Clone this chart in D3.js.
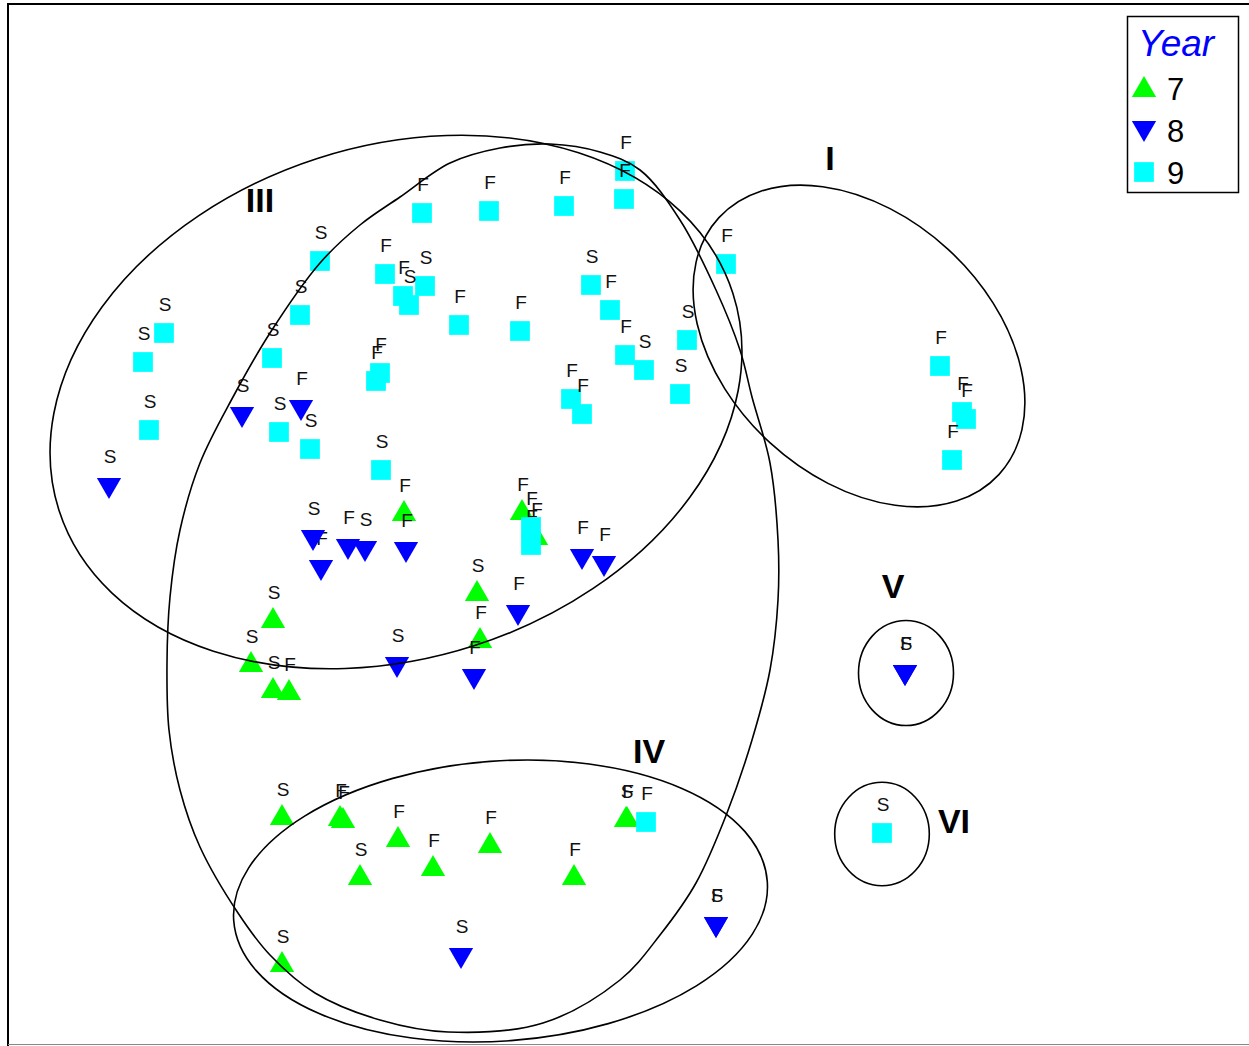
<!DOCTYPE html>
<html><head><meta charset="utf-8">
<script src="https://cdn.jsdelivr.net/npm/d3@7"></script>
<style>
body{margin:0;background:#fff}
svg{display:block}
text{font-family:"Liberation Sans",Arial,Helvetica,sans-serif}
</style>
</head><body>
<svg id="chart" width="1249" height="1046"></svg>
<script>
// ---- data (ordination scores, arbitrary units) ----
const years = ["7", "8", "9"];
const yearColors = ["#00FF00", "#0000FF", "#00FFFF"];

// [axis1, axis2, season label]
const year7 = [
  [-3.27,-1.21,"S"],[-3.49,-1.65,"S"],[-3.27,-1.91,"S"],[-3.11,-1.93,"F"],
  [-1.96,-0.14,"F"],[-0.78,-0.13,"F"],[-0.64,-0.38,"F"],[-1.23,-0.94,"S"],
  [-1.20,-1.41,"F"],[-3.18,-3.18,"S"],[-2.60,-3.19,"F"],[-2.57,-3.21,"F"],
  [-2.02,-3.40,"F"],[-2.40,-3.78,"S"],[-1.67,-3.69,"F"],[-1.10,-3.46,"F"],
  [-0.26,-3.78,"F"],[0.26,-3.20,"S"],[0.27,-3.20,"F"],[-3.18,-4.65,"S"]
];
const year8 = [
  [-3.58,0.86,"S"],[-2.99,0.93,"F"],[-4.91,0.15,"S"],[-2.79,-0.67,"F"],
  [-2.87,-0.37,"S"],[-2.52,-0.46,"F"],[-2.35,-0.48,"S"],[-2.03,-1.64,"S"],
  [-1.94,-0.49,"F"],[-0.82,-1.12,"F"],[-0.18,-0.56,"F"],[0.04,-0.63,"F"],
  [-1.26,-1.76,"F"],[-1.39,-4.55,"S"],[1.16,-4.24,"S"],[1.16,-4.24,"F"],
  [3.05,-1.72,"S"],[3.05,-1.72,"F"]
];
const year9 = [
  [-1.78,2.87,"F"],[-1.11,2.89,"F"],[-0.36,2.94,"F"],[0.25,3.29,"F"],
  [0.24,3.01,"F"],[1.26,2.36,"F"],[-0.09,2.15,"S"],[0.10,1.90,"F"],
  [0.25,1.45,"F"],[0.44,1.30,"S"],[0.87,1.60,"S"],[0.80,1.06,"S"],
  [-0.29,1.01,"F"],[-0.18,0.86,"F"],[-0.80,1.69,"F"],[-1.41,1.75,"F"],
  [-1.75,2.14,"S"],[-1.97,2.04,"F"],[-1.91,1.95,"S"],[-2.15,2.26,"F"],
  [-2.80,2.39,"S"],[-3.00,1.85,"S"],[-4.36,1.67,"S"],[-4.57,1.38,"S"],
  [-3.28,1.42,"S"],[-4.51,0.70,"S"],[-2.20,1.27,"F"],[-2.24,1.19,"F"],
  [-3.21,0.68,"S"],[-2.90,0.51,"S"],[-2.19,0.30,"S"],[-0.69,-0.45,"F"],
  [-0.69,-0.27,"F"],[3.40,1.34,"F"],[3.62,0.88,"F"],[3.66,0.81,"F"],
  [3.52,0.40,"F"],[0.46,-3.22,"F"],[2.82,-3.33,"S"]
];

// group outlines: ellipses [cx, cy, semi-axis a, semi-axis b, rotation deg]
const groupIII = [-2.04, 0.98, 3.54, 2.56, -17.9];
const groupI   = [2.59, 1.54, 1.90, 1.315, 42.5];
const groupIV  = [-0.995, -4.01, 2.675, 1.40, -4.2];
const groupV   = [3.06, -1.73, 0.475, 0.525, 0];
const groupVI  = [2.82, -3.34, 0.473, 0.517, 0];
// free-hand outline (unlabelled tall group)
const groupTall = [
  [-0.50,3.56],[0.00,3.48],[0.40,3.30],[0.80,2.80],[1.16,2.10],[1.40,1.50],
  [1.52,1.03],[1.70,0.37],[1.78,-0.40],[1.78,-1.00],[1.70,-1.70],[1.52,-2.40],
  [1.27,-3.13],[0.96,-3.83],[0.60,-4.35],[0.20,-4.80],[-0.57,-5.23],[-1.52,-5.32],
  [-2.20,-5.20],[-2.85,-4.93],[-3.30,-4.55],[-3.62,-4.13],[-4.00,-3.47],
  [-4.20,-2.90],[-4.31,-2.30],[-4.33,-1.63],[-4.30,-0.97],[-4.20,-0.30],
  [-4.00,0.37],[-3.67,1.03],[-3.30,1.67],[-2.80,2.37],[-2.40,2.75],
  [-2.00,3.03],[-1.50,3.37],[-1.00,3.52]
];

const groupNames = ["III","I","V","IV","VI"];
const groupLabelPos = [[-3.40,2.88],[2.30,3.30],[2.93,-0.98],[0.49,-2.63],[3.54,-3.33]];

// ---- drawing ----
const W = 1249, H = 1046;
const svg = d3.select("#chart");
const x = d3.scaleLinear().domain([-6, 6.49]).range([0, W]);
const y = d3.scaleLinear().domain([5, -5.46]).range([0, H]);

// frame
svg.append("path").attr("d", `M8,${H} L8,4 L${W},4`)
  .attr("fill","none").attr("stroke","#000").attr("stroke-width",2);
svg.append("line").attr("x1",8).attr("x2",W).attr("y1",1044.5).attr("y2",1044.5)
  .attr("stroke","#888").attr("stroke-width",1.2);

const symUp = d3.symbol().type(d3.symbolTriangle).size(255);
const symSq = d3.symbol().type(d3.symbolSquare).size(390);
const symbolPath = [symUp(), symUp(), symSq()];
const symbolRot = [0, 180, 0];

const pts = svg.append("g");
[year7, year8, year9].forEach((arr, yi) => {
  arr.forEach(d => {
    const px = x(d[0]), py = y(d[1]);
    pts.append("path").attr("d", symbolPath[yi])
      .attr("transform", `translate(${px},${py}) rotate(${symbolRot[yi]})`)
      .attr("fill", yearColors[yi]);
    pts.append("text").attr("x", px + 1).attr("y", py - 22)
      .attr("text-anchor","middle").attr("font-size",19).attr("fill","#111")
      .text(d[2]);
  });
});

// outlines
const outlines = svg.append("g").attr("fill","none").attr("stroke","#000").attr("stroke-width",1.6);
const lineGen = d3.line().x(d => x(d[0])).y(d => y(d[1])).curve(d3.curveCatmullRomClosed.alpha(0.5));
outlines.append("path").attr("d", lineGen(groupTall));
[groupIII, groupI, groupIV, groupV, groupVI].forEach(e => {
  outlines.append("ellipse")
    .attr("transform", `translate(${x(e[0])},${y(e[1])}) rotate(${e[4]})`)
    .attr("rx", x(e[2]) - x(0)).attr("ry", y(0) - y(e[3]));
});

// group labels
groupNames.forEach((n, i) => {
  svg.append("text").attr("x", x(groupLabelPos[i][0])).attr("y", y(groupLabelPos[i][1]))
    .attr("text-anchor","middle").attr("font-size",34).attr("font-weight","bold")
    .attr("fill","#000").text(n);
});

// legend
const lg = svg.append("g");
lg.append("rect").attr("x",1127.5).attr("y",16.5).attr("width",111).attr("height",176)
  .attr("fill","#fff").attr("stroke","#000").attr("stroke-width",1.5);
lg.append("text").attr("x",1138).attr("y",56).attr("font-size",37).attr("font-style","italic")
  .attr("fill","#0000FF").text("Year");
years.forEach((yr, i) => {
  const cy = 88 + i * 42;
  lg.append("path").attr("d", symbolPath[i])
    .attr("transform", `translate(1144,${cy + (i===0?2:(i===1?-2:0))}) rotate(${symbolRot[i]})`)
    .attr("fill", yearColors[i]);
  lg.append("text").attr("x",1167).attr("y", cy + 12).attr("font-size",31).attr("fill","#000").text(yr);
});
</script>
</body></html>
